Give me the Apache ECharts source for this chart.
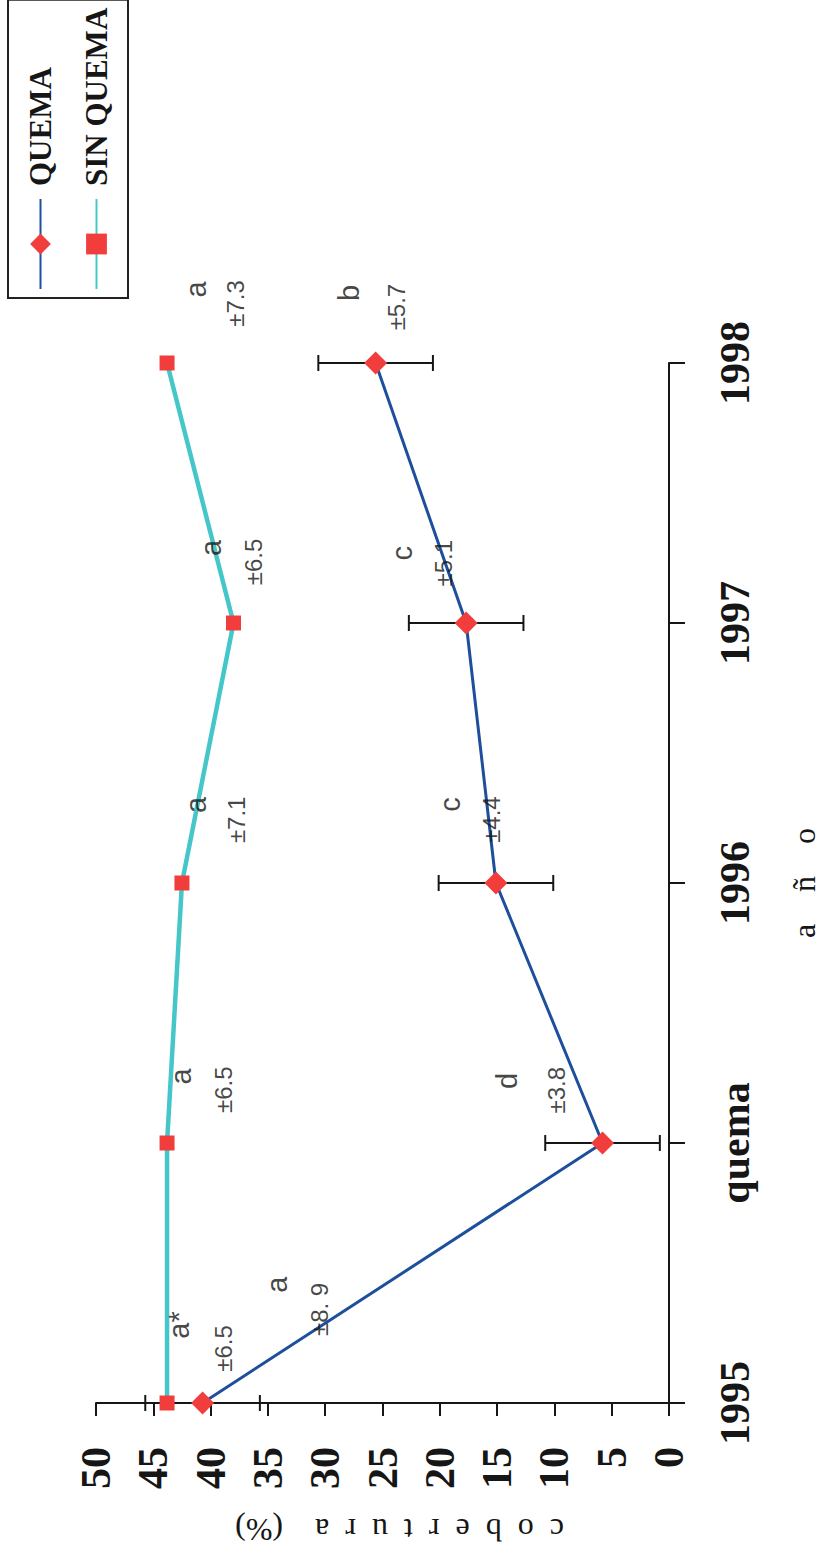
<!DOCTYPE html>
<html>
<head>
<meta charset="utf-8">
<script src="https://cdn.jsdelivr.net/npm/echarts@6/dist/echarts.min.js"></script>
<style>
  html, body { margin: 0; padding: 0; background: #ffffff; overflow: hidden; }
  body { width: 825px; height: 1568px; position: relative; }
  /* chart is laid out landscape and turned 90deg counter-clockwise, as in the scanned page */
  #chart { position: absolute; left: 0; top: 1568px; width: 1568px; height: 825px;
           transform-origin: 0 0; transform: rotate(-90deg); background: #ffffff; }
</style>
</head>
<body>
<div id="chart"></div>
<script>
// ---- data ----
const yearLabels = ['1995', 'quema', '1996', '1997', '1998'];
const yearIndex = [0, 1, 2, 3, 4];
const quemaVals = [40.7, 5.8, 15.1, 17.7, 25.6];
const sinQuemaVals = [43.8, 43.8, 42.5, 38.0, 43.8];
const quemaErr = [5, 5, 5, 5, 5];

// significance letters (anchor in data units: year index, cobertura)
const letterText = ['a*', 'a', 'a', 'd', 'a', 'c', 'a', 'c', 'a', 'b'];
const letterAtYear = [0.30, 0.455, 1.256, 1.239, 2.30, 2.302, 3.289, 3.268, 4.283, 4.269];
const letterAtVal = [42.8, 34.2, 42.6, 14.1, 41.3, 19.1, 40.0, 23.3, 41.3, 27.9];

// standard deviation notes
const sdText = ['±6.5', '±8. 9', '±6.5', '±3.8', '±7.1', '±4.4', '±6.5', '±5.1', '±7.3', '±5.7'];
const sdAtYear = [0.21, 0.36, 1.205, 1.203, 2.243, 2.244, 3.235, 3.23, 4.229, 4.215];
const sdAtVal = [38.9, 30.5, 38.9, 9.8, 37.7, 15.5, 36.3, 19.7, 37.8, 23.8];

// ---- chart ----
const serif = 'Liberation Serif, Times New Roman, serif';
const sans = 'Liberation Sans, Arial, sans-serif';
const ink = '#161616';

const chart = echarts.init(document.getElementById('chart'), null, { renderer: 'svg', width: 1568, height: 825 });

const option = {
  backgroundColor: '#ffffff',
  animation: false,
  grid: { left: 165, right: 363, top: 96, bottom: 152, containLabel: false },
  legend: {
    data: ['QUEMA', 'SIN QUEMA'],
    orient: 'vertical',
    left: 1270, top: 8,
    padding: [17, 8, 16, 8],
    itemGap: 25,
    itemWidth: 90, itemHeight: 26,
    borderColor: '#222', borderWidth: 2,
    textStyle: { fontFamily: serif, fontWeight: 'bold', fontSize: 31, color: ink, padding: [0, 0, 0, 8] }
  },
  xAxis: {
    type: 'value', min: 0, max: 4, interval: 1,
    position: 'bottom',
    axisLine: { show: true, lineStyle: { color: ink, width: 2 } },
    axisTick: { show: true, length: 16, lineStyle: { color: ink, width: 2 } },
    splitLine: { show: false },
    axisLabel: {
      formatter: v => (Number.isInteger(v) ? (yearLabels[v] || '') : ''),
      fontFamily: serif, fontWeight: 'bold', fontSize: 42, color: ink, margin: 45
    },
    name: 'a\u2003ñ\u2003o', nameLocation: 'middle', nameGap: 119,
    nameTextStyle: { fontFamily: serif, fontSize: 32, color: ink }
  },
  yAxis: {
    type: 'value', min: 0, max: 50, interval: 5,
    axisLine: { show: true, lineStyle: { color: ink, width: 2 } },
    axisTick: { show: true, length: 13, lineStyle: { color: ink, width: 2 } },
    splitLine: { show: false },
    axisLabel: { fontFamily: serif, fontWeight: 'bold', fontSize: 42, color: ink, margin: 44 },
    name: 'c\u2002o\u2002b\u2002e\u2002r\u2002t\u2002u\u2002r\u2002a\u2002\u2002(%)',
    nameLocation: 'middle', nameRotate: 90, nameGap: 111,
    nameTextStyle: { fontFamily: serif, fontSize: 32, color: ink, padding: [0, 34, 0, 0] }
  },
  series: [
    {
      name: 'errbars', type: 'custom', z: 1, silent: true,
      data: yearIndex.map((x, i) => [x, quemaVals[i], quemaErr[i]]),
      encode: { x: 0, y: 1 },
      renderItem: function (params, api) {
        const x = api.value(0), y = api.value(1), e = api.value(2);
        const lo = api.coord([x, y - e]);
        const hi = api.coord([x, y + e]);
        const c = 8;
        const st = { stroke: ink, lineWidth: 2 };
        return {
          type: 'group',
          children: [
            { type: 'line', shape: { x1: lo[0], y1: lo[1], x2: hi[0], y2: hi[1] }, style: st },
            { type: 'line', shape: { x1: lo[0] - c, y1: lo[1], x2: lo[0] + c, y2: lo[1] }, style: st },
            { type: 'line', shape: { x1: hi[0] - c, y1: hi[1], x2: hi[0] + c, y2: hi[1] }, style: st }
          ]
        };
      }
    },
    {
      name: 'QUEMA', type: 'line', z: 3,
      data: yearIndex.map((x, i) => [x, quemaVals[i]]),
      symbol: 'diamond', symbolSize: 23, showAllSymbol: true,
      lineStyle: { color: '#1d4f9c', width: 3 },
      itemStyle: { color: '#f23d3d', borderWidth: 0 }
    },
    {
      name: 'SIN QUEMA', type: 'line', z: 3,
      data: yearIndex.map((x, i) => [x, sinQuemaVals[i]]),
      symbol: 'rect', symbolSize: 15, showAllSymbol: true,
      lineStyle: { color: '#45c6c9', width: 4.5 },
      itemStyle: { color: '#f23d3d', borderWidth: 0 }
    },
    {
      name: 'letters', type: 'scatter', z: 5, silent: true, clip: false,
      symbolSize: 1, itemStyle: { color: 'rgba(0,0,0,0)' },
      data: letterText.map((t, i) => ({ name: t, value: [letterAtYear[i], letterAtVal[i]] })),
      label: { show: true, position: 'inside', formatter: '{b}', fontFamily: sans, fontSize: 29, color: ink }
    },
    {
      name: 'sds', type: 'scatter', z: 5, silent: true, clip: false,
      symbolSize: 1, itemStyle: { color: 'rgba(0,0,0,0)' },
      data: sdText.map((t, i) => ({ name: t, value: [sdAtYear[i], sdAtVal[i]] })),
      label: { show: true, position: 'inside', formatter: '{b}', fontFamily: sans, fontSize: 24, color: ink }
    }
  ]
};
chart.setOption(option);
</script>
</body>
</html>
